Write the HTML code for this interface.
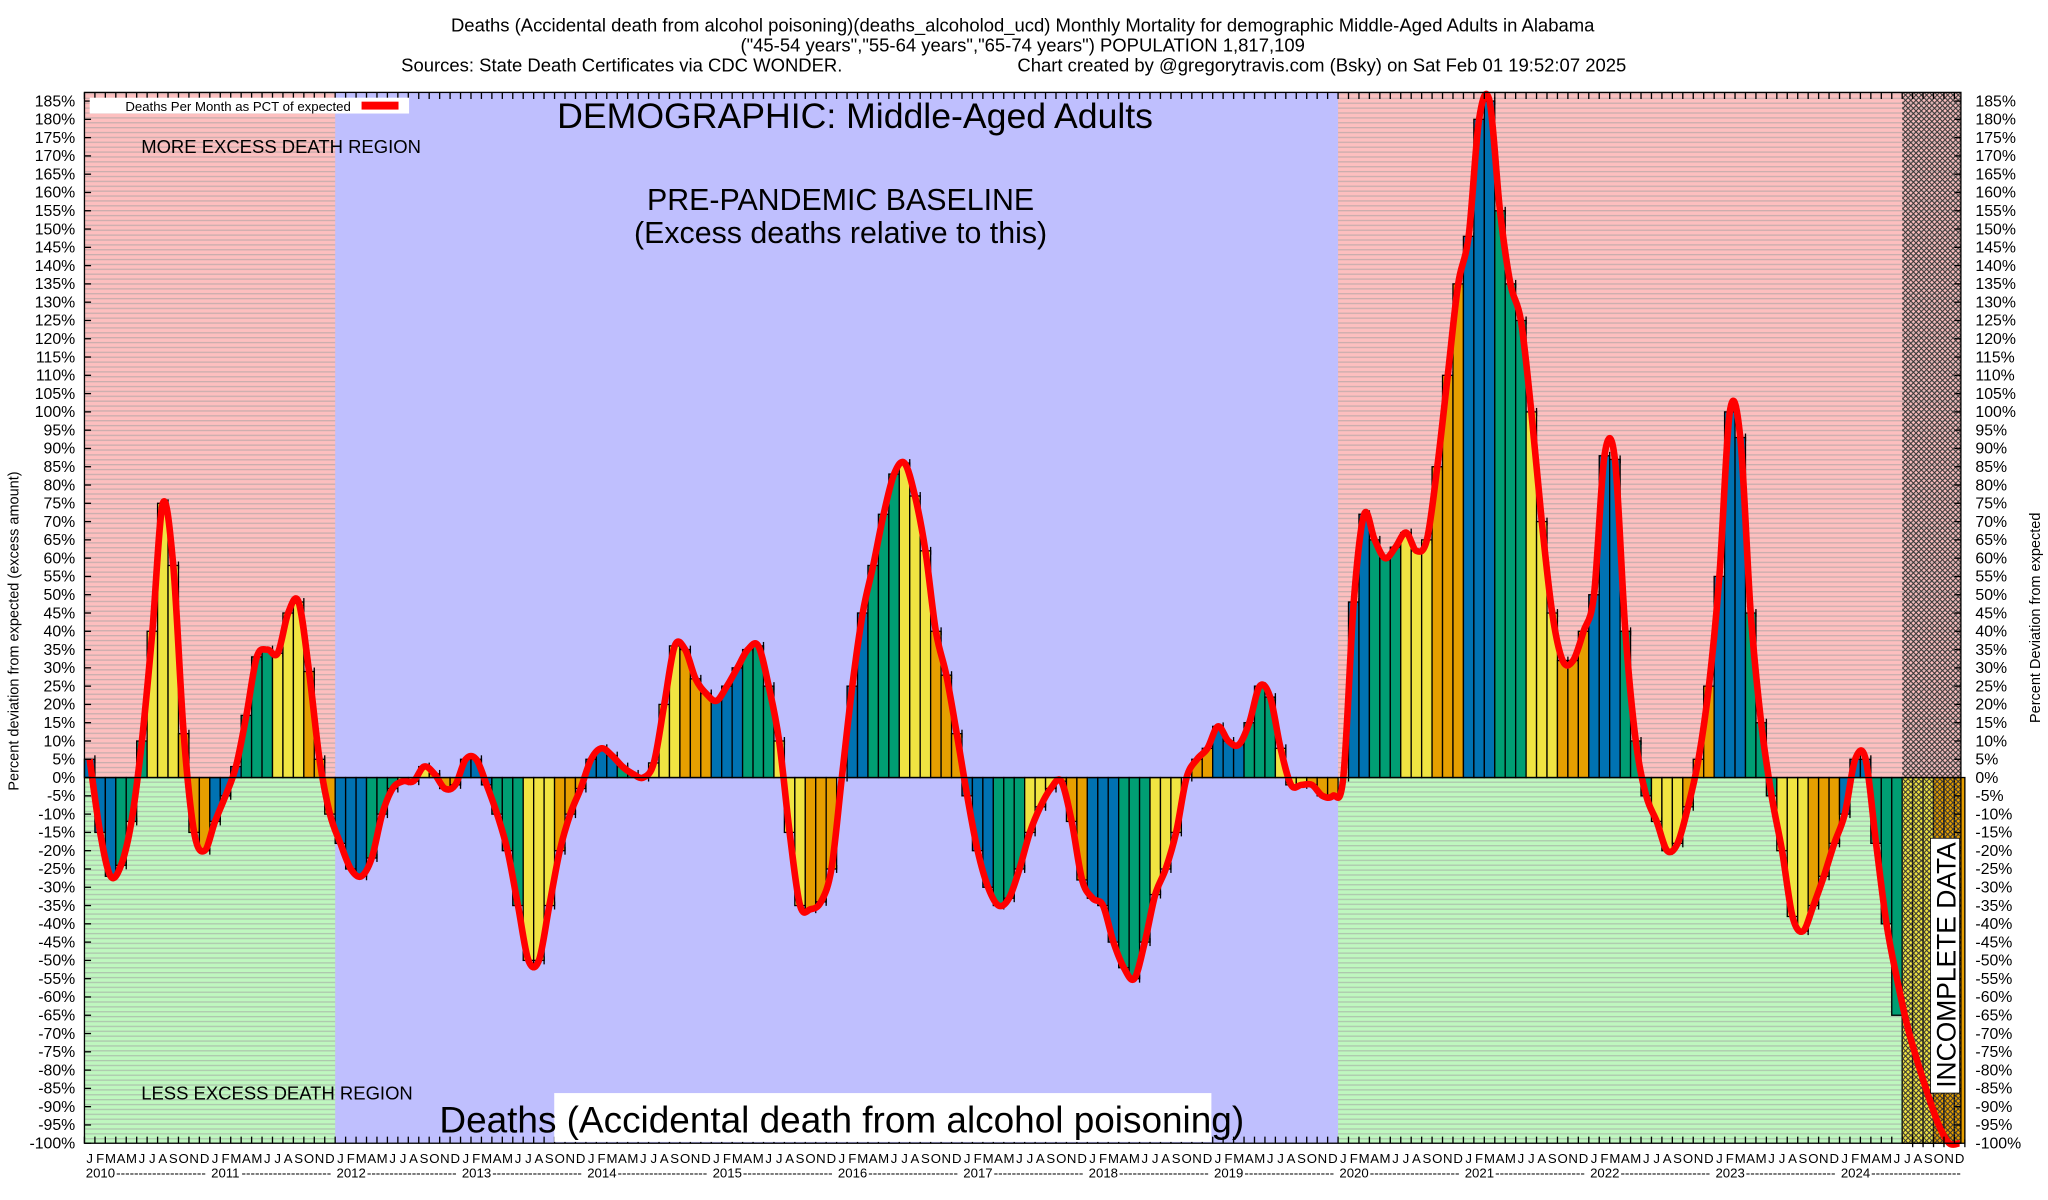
<!DOCTYPE html>
<html><head><meta charset="utf-8">
<style>
html,body{margin:0;padding:0;background:#fff;}
svg{display:block;font-family:"Liberation Sans",sans-serif;}
</style></head>
<body>
<svg id="chart" width="2048" height="1200" viewBox="0 0 1552 909" preserveAspectRatio="none" xmlns="http://www.w3.org/2000/svg">
<defs>
<pattern id="stripes" width="4" height="3.7" patternUnits="userSpaceOnUse"><rect width="4" height="1" fill="#a0a0a0" opacity="0.55"/></pattern>
<pattern id="hatch" width="4" height="4" patternUnits="userSpaceOnUse"><path d="M0 0L4 4M4 0L0 4" stroke="#333" stroke-width="0.8"/></pattern>
</defs>
<g id="bg"></g>
<g id="bars"></g>
<g id="overlay"></g>
<g id="axes"></g>
<g id="labels"></g>
</svg>
<script>
const categoriesYears = [2010,2011,2012,2013,2014,2015,2016,2017,2018,2019,2020,2021,2022,2023,2024];
const monthLetters = ["J","F","M","A","M","J","J","A","S","O","N","D"];
const barValues = [
5,-15,-27,-24,-12,10,40,75,58,12,-15,-20,
-12,-5,3,17,33,35,34,45,48,29,5,-10,
-18,-25,-27,-22,-10,-3,-1,-1,3,1,-3,-2,
5,5,-2,-10,-20,-35,-50,-50,-35,-20,-10,-3,
5,8,6,3,1,0,4,20,36,35,27,23,
21,25,30,35,36,25,10,-15,-35,-36,-34,-25,
0,25,45,58,72,83,86,77,62,40,28,12,
-5,-20,-30,-35,-33,-25,-15,-8,-3,-1,-12,-28,
-33,-35,-45,-52,-55,-45,-32,-25,-15,0,5,8,
14,10,9,15,25,22,8,-2,-2,-2,-5,-5,
0,48,72,65,60,63,67,62,65,85,110,135,
148,180,185,155,135,125,100,70,45,32,32,40,
50,88,87,40,10,-5,-12,-20,-18,-8,5,25,
55,100,93,45,15,-5,-20,-38,-42,-35,-27,-18,
-10,5,5,-18,-40,-65,-100,-100,-100,-100,-100,-100];
const lineValues = [
5,-15,-27,-24,-12,10,40,75,58,12,-15,-20,
-12,-5,3,17,33,35,34,45,48,29,5,-10,
-18,-25,-27,-22,-10,-3,-1,-1,3,1,-3,-2,
5,5,-2,-10,-20,-35,-50,-50,-35,-20,-10,-3,
5,8,6,3,1,0,4,20,36,35,27,23,
21,25,30,35,36,25,10,-15,-35,-36,-34,-25,
0,25,45,58,72,83,86,77,62,40,28,12,
-5,-20,-30,-35,-33,-25,-15,-8,-3,-1,-12,-28,
-33,-35,-45,-52,-55,-45,-32,-25,-15,0,5,8,
14,10,9,15,25,22,8,-2,-2,-2,-5,-5,
0,48,72,65,60,63,67,62,65,85,110,135,
148,180,185,155,135,125,100,70,45,32,32,40,
50,88,87,40,10,-5,-12,-20,-18,-8,5,25,
55,100,93,45,15,-5,-20,-38,-42,-35,-27,-18,
-10,5,5,-18,-40,-55,-68,-78,-87,-95,-100,-100];
const yTicks = [];
for (let v=185; v>=-100; v-=5) yTicks.push(v);

const NS="http://www.w3.org/2000/svg";
const L=64, R=1486, T=70, B=866, Z=589;
const nMonths = categoriesYears.length*12;
const mw = (1489-64)/nMonths;
function xPos(i){ return L + i*mw; }
function yPos(v){ return Z - v*(B-Z)/100; }
function mk(tag, attrs, parent, text){
  const e=document.createElementNS(NS,tag);
  for(const k in attrs) e.setAttribute(k,attrs[k]);
  if(text!==undefined) e.textContent=text;
  parent.appendChild(e); return e;
}
const bg=document.getElementById('bg'), bars=document.getElementById('bars'),
      ov=document.getElementById('overlay'), ax=document.getElementById('axes'), lb=document.getElementById('labels');

// background regions
let e;
e=mk('rect',{x:L,y:T,width:R-L,height:B-T,fill:'#bfbffe'},bg);
 
const x2012=xPos(24), x2020=xPos(120), x2024j=xPos(174);
[[L,x2012],[x2020,R]].forEach(([a,b],k)=>{
  e=mk('rect',{x:a,y:T,width:b-a,height:Z-T,fill:'#fdbfbf'},bg);
   
  mk('rect',{x:a,y:T,width:b-a,height:Z-T,fill:'url(#stripes)'},bg);
  e=mk('rect',{x:a,y:Z,width:b-a,height:B-Z,fill:'#bff7bf'},bg);
   
  mk('rect',{x:a,y:Z,width:b-a,height:B-Z,fill:'url(#stripes)'},bg);
});

// bars
const qColors=['#0072b2','#009e73','#f0e442','#e69f00'];
barValues.forEach((v,i)=>{
  const y0=yPos(0), y1=yPos(v);
  const r=mk('rect',{x:xPos(i),y:Math.min(y0,y1),width:mw,height:Math.abs(y1-y0),fill:qColors[Math.floor((i%12)/3)],stroke:'#000','stroke-width':1},bars);
  
  
  mk('line',{x1:xPos(i)+mw,x2:xPos(i)+mw,y1:y1-3,y2:y1+3,stroke:'#000','stroke-width':1},bars);
});

// incomplete hatch
e=mk('rect',{x:x2024j,y:T,width:R-x2024j,height:B-T,fill:'url(#hatch)'},ov);
 

// red line (catmull-rom)
const pts=lineValues.map((v,i)=>[xPos(i)+mw/2,yPos(v)]);
let d='M'+pts[0][0]+' '+pts[0][1];
for(let i=0;i<pts.length-1;i++){
  const p0=pts[Math.max(0,i-1)],p1=pts[i],p2=pts[i+1],p3=pts[Math.min(pts.length-1,i+2)];
  const c1=[p1[0]+(p2[0]-p0[0])/6,p1[1]+(p2[1]-p0[1])/6];
  const c2=[p2[0]-(p3[0]-p1[0])/6,p2[1]-(p3[1]-p1[1])/6];
  d+=`C${c1[0]} ${c1[1]} ${c2[0]} ${c2[1]} ${p2[0]} ${p2[1]}`;
}
e=mk('path',{d:d,fill:'none',stroke:'#ff0000','stroke-width':5,'stroke-linejoin':'round'},ov);
 

// frame & axes
mk('rect',{x:L,y:T,width:R-L,height:B-T,fill:'none',stroke:'#000','stroke-width':1},ax);
mk('line',{x1:L,x2:R,y1:Z,y2:Z,stroke:'#000','stroke-width':1},ax);
yTicks.forEach(v=>{
  const y=yPos(v);
  mk('line',{x1:L,x2:L+5,y1:y,y2:y,stroke:'#000'},ax);
  mk('line',{x1:R-5,x2:R,y1:y,y2:y,stroke:'#000'},ax);
  e=mk('text',{x:57,y:y+4,'text-anchor':'end','font-size':12},ax,v+'%');
   
  e=mk('text',{x:1497,y:y+4,'text-anchor':'start','font-size':12},ax,v+'%');
   
});
for(let i=0;i<nMonths;i++){
  const x=xPos(i);
  mk('line',{x1:x,x2:x,y1:T,y2:T+5,stroke:'#000'},ax);
  mk('line',{x1:x,x2:x,y1:B-5,y2:B,stroke:'#000'},ax);
  e=mk('text',{x:x+mw/2,y:881,'text-anchor':'middle','font-size':10},ax,monthLetters[i%12]);
   
}
categoriesYears.forEach((yr,k)=>{
  const x=xPos(k*12);
  e=mk('text',{x:x+1,y:892,'font-size':10},ax,String(yr));
   
  mk('text',{x:x+24,y:892,'font-size':10,textLength:68,lengthAdjust:'spacingAndGlyphs'},ax,'--------------------');
});

// axis titles
e=mk('text',{x:0,y:0,transform:'translate(14,478) rotate(-90)','text-anchor':'middle','font-size':11},lb,'Percent deviation from expected (excess amount)');
 
e=mk('text',{x:0,y:0,transform:'translate(1546,468) rotate(-90)','text-anchor':'middle','font-size':11},lb,'Percent Deviation from expected');
 

// titles
const titles=['Deaths (Accidental death from alcohol poisoning)(deaths_alcoholod_ucd) Monthly Mortality for demographic Middle-Aged Adults in Alabama',
'("45-54 years","55-64 years","65-74 years") POPULATION 1,817,109'];
titles.forEach((t,k)=>{
  e=mk('text',{x:775,y:24+k*15,'text-anchor':'middle','font-size':14},lb,t);
   
});
e=mk('text',{x:304,y:54,'font-size':14},lb,'Sources: State Death Certificates via CDC WONDER.');
 
e=mk('text',{x:771,y:54,'font-size':14},lb,'Chart created by @gregorytravis.com (Bsky) on Sat Feb 01 19:52:07 2025');
 

// legend
e=mk('rect',{x:68,y:74,width:242,height:12,fill:'#fff'},lb);
 
e=mk('text',{x:95,y:84,'font-size':10},lb,'Deaths Per Month as PCT of expected');
 
mk('rect',{x:274,y:77,width:28,height:6,fill:'#ff0000'},lb);

// annotations
[['DEMOGRAPHIC: Middle-Aged Adults',648,97,27,'middle','demographic-label'],
 ['PRE-PANDEMIC BASELINE',637,159,23,'middle','baseline-label'],
 ['(Excess deaths relative to this)',637,184,23,'middle','baseline-sublabel'],
 ['MORE EXCESS DEATH REGION',107,116,14,'start','more-excess-label'],
 ['LESS EXCESS DEATH REGION',107,833,14,'start','less-excess-label']].forEach(a=>{
  e=mk('text',{x:a[1],y:a[2],'font-size':a[3],'text-anchor':a[4]},lb,a[0]);
   
});
mk('rect',{x:420,y:828,width:498,height:37,fill:'#fff'},lb);
e=mk('text',{x:333,y:858,'font-size':28},lb,'Deaths (Accidental death from alcohol poisoning)');
 
mk('rect',{x:1463,y:635,width:22,height:193,fill:'#fff',stroke:'#000','stroke-width':0.6},lb);
e=mk('text',{x:0,y:0,transform:'translate(1482,731) rotate(-90)','text-anchor':'middle','font-size':20,textLength:186,lengthAdjust:'spacingAndGlyphs'},lb,'INCOMPLETE DATA');
 
</script>
</body></html>
